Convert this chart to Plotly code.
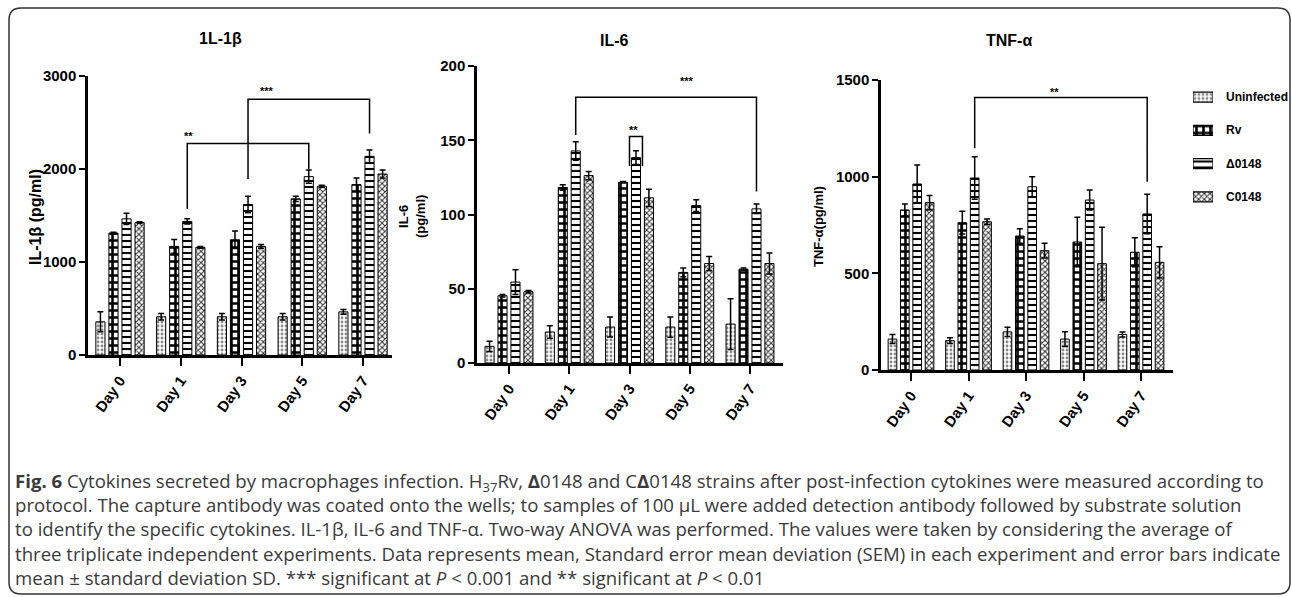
import plotly.graph_objects as go

W, H = 1292, 597

days = ["Day 0", "Day 1", "Day 3", "Day 5", "Day 7"]
groups = ["Uninfected", "Rv", "Δ0148", "C0148"]

# IL-1beta (pg/ml)
il1b_uninf = [357, 411, 411, 411, 464]
il1b_rv = [1311, 1168, 1239, 1679, 1832]
il1b_d0148 = [1464, 1436, 1618, 1918, 2136]
il1b_c0148 = [1425, 1157, 1168, 1814, 1946]
il1b_uninf_err = [107, 35, 35, 35, 25]
il1b_rv_err = [10, 75, 93, 28, 72]
il1b_d0148_err = [61, 28, 89, 71, 68]
il1b_c0148_err = [8, 10, 21, 10, 43]

# IL-6 (pg/ml)
il6_uninf = [11.2, 20.9, 24.2, 24.2, 26.2]
il6_rv = [45.3, 118.2, 121.7, 61.0, 63.2]
il6_d0148 = [54.5, 142.8, 138.3, 106.0, 103.8]
il6_c0148 = [48.0, 126.2, 111.2, 67.0, 67.0]
il6_uninf_err = [3.4, 4.2, 6.7, 6.8, 17.1]
il6_rv_err = [0.8, 1.8, 0.5, 2.9, 0.8]
il6_d0148_err = [8.3, 6.2, 4.7, 3.9, 3.2]
il6_c0148_err = [0.8, 2.8, 5.8, 4.7, 7.0]

# TNF-alpha (pg/ml)
tnf_uninf = [160, 152, 197, 160, 184]
tnf_rv = [828, 762, 693, 662, 609]
tnf_d0148 = [962, 993, 948, 879, 807]
tnf_c0148 = [866, 767, 617, 550, 557]
tnf_uninf_err = [23, 15, 24, 38, 13]
tnf_rv_err = [31, 59, 38, 128, 75]
tnf_d0148_err = [98, 110, 52, 52, 102]
tnf_c0148_err = [37, 14, 38, 188, 81]

panel_titles = ["1L-1β", "IL-6", "TNF-α"]
y_titles = ["IL-1β (pg/ml)", "IL-6<br>(pg/ml)", "TNF-α(pg/ml)"]
y_max = [3000, 200, 1500]
y_dtick = [1000, 50, 500]

# significance brackets: (panel, day_from, bar_pos_from, day_to, bar_pos_to,
#                         top, left_bottom, right_bottom, label, label_x, label_y)
brackets = [
    (0, 1, 2, 3, 2, 2275, 1571, 2000, "**", 1.12, 2382),
    (0, 2, 2, 4, 2, 2750, 1893, 2382, "***", 2.42, 2875),
    (1, 1, 2, 4, 2, 178.9, 153.6, 115.5, "***", 2.95, 191.7),
    (1, 2, 1.5, 2, 2.5, 152.5, 132.7, 132.7, "**", 2.07, 158.7),
    (2, 1, 2, 4, 2, 1410, 1147, 974, "**", 2.49, 1452),
]

panels = [
    [(il1b_uninf, il1b_uninf_err), (il1b_rv, il1b_rv_err),
     (il1b_d0148, il1b_d0148_err), (il1b_c0148, il1b_c0148_err)],
    [(il6_uninf, il6_uninf_err), (il6_rv, il6_rv_err),
     (il6_d0148, il6_d0148_err), (il6_c0148, il6_c0148_err)],
    [(tnf_uninf, tnf_uninf_err), (tnf_rv, tnf_rv_err),
     (tnf_d0148, tnf_d0148_err), (tnf_c0148, tnf_c0148_err)],
]

# ---------------- styling / layout geometry (pixels) ----------------
BOLD = "Liberation Sans, Arial, sans-serif"
pat_shape = [".", "+", "-", "x"]
pat_fg = ["#8a8a8a", "black", "black", "#333333"]
pat_size = [4, 7, 6, 4]
pat_solid = [0.4, 0.6, 0.35, 0.45]
BARGAP = 0.14
SLOT = (1 - BARGAP) / 4

# (axis_left_px, axis_right_px, zero_y_px, top_y_px, first_tick_px, last_tick_px)
geom = [
    (88, 392, 355, 76, 120, 363),
    (477, 783, 363, 66, 509, 750),
    (881, 1173, 370, 80, 911, 1141),
]
title_pos = [(220, 38), (614, 40), (1009, 40)]
ytitle_pos = [(35, 217, 16), (412, 217, 13), (818, 227, 13)]
legend_box = (1193, 1213, 80.5, 213.5)   # swatch column (px)
legend_text_x = 1224


def px(x):
    return x / W


def py(y):
    return 1 - y / H


fig = go.Figure()

for p, series in enumerate(panels):
    xa = "x" if p == 0 else f"x{p + 1}"
    ya = "y" if p == 0 else f"y{p + 1}"
    for i, (vals, errs) in enumerate(series):
        fig.add_trace(go.Bar(
            x=list(range(len(days))), y=vals, name=groups[i], showlegend=False,
            marker=dict(color="white", line=dict(color="black", width=1),
                        pattern=dict(shape=pat_shape[i], fgcolor=pat_fg[i], bgcolor="white",
                                     size=pat_size[i], solidity=pat_solid[i], fillmode="replace")),
            error_y=dict(type="data", array=errs, symmetric=True, color="black", thickness=1.5, width=3),
            xaxis=xa, yaxis=ya,
        ))

# legend swatches drawn as a small hidden bar chart
fig.add_trace(go.Bar(
    x=[1] * len(groups), y=list(range(len(groups))), orientation="h", width=0.3,
    showlegend=False, hoverinfo="skip",
    marker=dict(color="white", line=dict(color="black", width=1.2),
                pattern=dict(shape=pat_shape, fgcolor=pat_fg, bgcolor="white",
                             size=pat_size, solidity=pat_solid, fillmode="replace")),
    xaxis="x4", yaxis="y4",
))

layout_axes = {}
for p, (l, r, z, t, f0, f4) in enumerate(geom):
    unit = (f4 - f0) / 4
    xr = [(l - f0) / unit, (r - f0) / unit]
    kx = "xaxis" if p == 0 else f"xaxis{p + 1}"
    ky = "yaxis" if p == 0 else f"yaxis{p + 1}"
    yname = "y" if p == 0 else f"y{p + 1}"
    xname = "x" if p == 0 else f"x{p + 1}"
    layout_axes[kx] = dict(
        domain=[px(l), px(r)], range=xr, anchor=yname, automargin=False,
        tickvals=list(range(len(days))), ticktext=days, tickangle=-55,
        showline=True, linecolor="black", linewidth=2.5, ticks="outside", ticklen=8,
        tickwidth=2, tickcolor="black", showgrid=False, zeroline=False,
        tickfont=dict(family=BOLD, size=15, color="black", weight="bold"),
    )
    layout_axes[ky] = dict(
        domain=[py(z), py(t)], range=[0, y_max[p]], anchor=xname, dtick=y_dtick[p], automargin=False,
        showline=True, linecolor="black", linewidth=2.5, ticks="outside", ticklen=6,
        tickwidth=2, tickcolor="black", showgrid=False, zeroline=False,
        tickfont=dict(family=BOLD, size=15, color="black", weight="bold"),
    )

lx0, lx1, ly0, ly1 = legend_box
layout_axes["xaxis4"] = dict(domain=[px(lx0), px(lx1)], range=[0, 1], visible=False, anchor="y4",
                             fixedrange=True, automargin=False)
layout_axes["yaxis4"] = dict(domain=[py(ly1), py(ly0)], range=[len(groups) - 0.5, -0.5], visible=False,
                             anchor="x4", fixedrange=True, automargin=False)
fig.update_layout(**layout_axes)

annotations = []
shapes = []
for p in range(3):
    tx, ty = title_pos[p]
    annotations.append(dict(xref="paper", yref="paper", x=px(tx), y=py(ty), text=panel_titles[p],
                            xanchor="center", yanchor="middle", showarrow=False,
                            font=dict(family=BOLD, size=16, color="black", weight="bold")))
    yx, yy, ys = ytitle_pos[p]
    annotations.append(dict(xref="paper", yref="paper", x=px(yx), y=py(yy), text=y_titles[p],
                            xanchor="center", yanchor="middle", textangle=-90, showarrow=False,
                            font=dict(family=BOLD, size=ys, color="black", weight="bold")))

for i, g in enumerate(groups):
    annotations.append(dict(xref="paper", yref="y4", x=px(legend_text_x), y=i,
                            xanchor="left", yanchor="middle", text=g, showarrow=False,
                            font=dict(family=BOLD, size=12, color="black", weight="bold")))

for (p, d0, b0, d1, b1, top, lb, rb, lab, lx, ly) in brackets:
    xa = "x" if p == 0 else f"x{p + 1}"
    ya = "y" if p == 0 else f"y{p + 1}"
    x0 = d0 + (b0 - 1.5) * SLOT
    x1 = d1 + (b1 - 1.5) * SLOT
    shapes.append(dict(type="path", xref=xa, yref=ya,
                       path=f"M {x0},{lb} L {x0},{top} L {x1},{top} L {x1},{rb}",
                       line=dict(color="black", width=1.5)))
    annotations.append(dict(xref=xa, yref=ya, x=lx, y=ly, text=lab, showarrow=False,
                            xanchor="center", yanchor="middle", yshift=-3,
                            font=dict(family=BOLD, size=11, color="black", weight="bold")))

# figure frame (rounded rectangle)
x0, y0, x1, y1, rr = 9, 8, 1290, 594, 12
frame = (f"M {px(x0 + rr)},{py(y0)} L {px(x1 - rr)},{py(y0)} Q {px(x1)},{py(y0)} {px(x1)},{py(y0 + rr)} "
         f"L {px(x1)},{py(y1 - rr)} Q {px(x1)},{py(y1)} {px(x1 - rr)},{py(y1)} "
         f"L {px(x0 + rr)},{py(y1)} Q {px(x0)},{py(y1)} {px(x0)},{py(y1 - rr)} "
         f"L {px(x0)},{py(y0 + rr)} Q {px(x0)},{py(y0)} {px(x0 + rr)},{py(y0)} Z")
shapes.append(dict(type="path", xref="paper", yref="paper", path=frame,
                   line=dict(color="#333333", width=1.5), layer="below"))

caption = ("<b>Fig. 6</b> Cytokines secreted by macrophages infection. H<sub>37</sub>Rv, <b>Δ</b>0148 and C<b>Δ</b>0148 "
           "strains after post-infection cytokines were measured according to<br>"
           "protocol. The capture antibody was coated onto the wells; to samples of 100 µL were added detection antibody "
           "followed by substrate solution<br>"
           "to identify the specific cytokines. IL-1β, IL-6 and TNF-α. Two-way ANOVA was performed. The values were taken "
           "by considering the average of<br>"
           "three triplicate independent experiments. Data represents mean, Standard error mean deviation (SEM) in each "
           "experiment and error bars indicate<br>"
           "mean ± standard deviation SD. *** significant at <i>P</i> &lt; 0.001 and ** significant at <i>P</i> &lt; 0.01")
annotations.append(dict(xref="paper", yref="paper", x=px(13), y=py(466), xanchor="left", yanchor="top",
                        align="left", text=caption, showarrow=False,
                        font=dict(family="Open Sans, sans-serif", size=18.6, color="#3a3a3a")))

fig.update_layout(
    width=W, height=H, autosize=False,
    margin=dict(l=0, r=0, t=0, b=0, autoexpand=False),
    paper_bgcolor="white", plot_bgcolor="white",
    barmode="group", bargap=BARGAP, bargroupgap=0.3,
    showlegend=False,
    annotations=annotations, shapes=shapes,
)

fig.write_html("out.html")
